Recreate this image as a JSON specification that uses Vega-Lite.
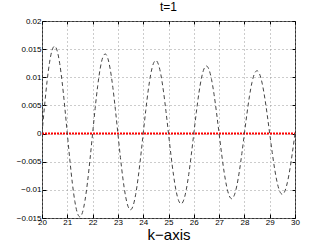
{
  "$schema": "https://vega.github.io/schema/vega-lite/v6.json",
  "autosize": "none",
  "width": 253,
  "height": 197,
  "padding": {"left": 42, "top": 21, "right": 31, "bottom": 27},
  "background": "white",
  "config": {
    "view": {"stroke": "#333", "strokeWidth": 1},
    "font": "Liberation Sans",
    "axis": {
      "domain": false,
      "tickColor": "#000",
      "tickSize": -4,
      "labelFontSize": 8,
      "labelColor": "#000",
      "labelFont": "Liberation Sans",
      "titleFont": "Liberation Sans"
    }
  },
  "title": {"text": "t=1", "fontSize": 12, "fontWeight": "normal", "offset": 3, "color": "#000"},
  "datasets": {
    "curve": [
      {"k":20.0,"v":0},{"k":20.1,"v":0.004894},{"k":20.2,"v":0.009262},{"k":20.3,"v":0.012685},{"k":20.4,"v":0.014839},{"k":20.5,"v":0.015527},{"k":20.6,"v":0.014696},{"k":20.7,"v":0.012440},{"k":20.8,"v":0.008995},{"k":20.9,"v":0.004706},
      {"k":21.0,"v":0},{"k":21.1,"v":-0.004662},{"k":21.2,"v":-0.008826},{"k":21.3,"v":-0.012090},{"k":21.4,"v":-0.014146},{"k":21.5,"v":-0.014805},{"k":21.6,"v":-0.014016},{"k":21.7,"v":-0.011868},{"k":21.8,"v":-0.008582},{"k":21.9,"v":-0.004492},
      {"k":22.0,"v":0},{"k":22.1,"v":0.004451},{"k":22.2,"v":0.008428},{"k":22.3,"v":0.011548},{"k":22.4,"v":0.013515},{"k":22.5,"v":0.014147},{"k":22.6,"v":0.013396},{"k":22.7,"v":0.011345},{"k":22.8,"v":0.008206},{"k":22.9,"v":0.004295},
      {"k":23.0,"v":0},{"k":23.1,"v":-0.004258},{"k":23.2,"v":-0.008064},{"k":23.3,"v":-0.011052},{"k":23.4,"v":-0.012937},{"k":23.5,"v":-0.013545},{"k":23.6,"v":-0.012828},{"k":23.7,"v":-0.010866},{"k":23.8,"v":-0.007861},{"k":23.9,"v":-0.004116},
      {"k":24.0,"v":0},{"k":24.1,"v":0.004082},{"k":24.2,"v":0.007731},{"k":24.3,"v":0.010597},{"k":24.4,"v":0.012408},{"k":24.5,"v":0.012992},{"k":24.6,"v":0.012307},{"k":24.7,"v":0.010426},{"k":24.8,"v":0.007544},{"k":24.9,"v":0.003951},
      {"k":25.0,"v":0},{"k":25.1,"v":-0.003919},{"k":25.2,"v":-0.007424},{"k":25.3,"v":-0.010178},{"k":25.4,"v":-0.011919},{"k":25.5,"v":-0.012483},{"k":25.6,"v":-0.011825},{"k":25.7,"v":-0.010021},{"k":25.8,"v":-0.007252},{"k":25.9,"v":-0.003798},
      {"k":26.0,"v":0},{"k":26.1,"v":0.003769},{"k":26.2,"v":0.007141},{"k":26.3,"v":0.009792},{"k":26.4,"v":0.011467},{"k":26.5,"v":0.012012},{"k":26.6,"v":0.011381},{"k":26.7,"v":0.009645},{"k":26.8,"v":0.006981},{"k":26.9,"v":0.003657},
      {"k":27.0,"v":0},{"k":27.1,"v":-0.003630},{"k":27.2,"v":-0.006879},{"k":27.3,"v":-0.009433},{"k":27.4,"v":-0.011048},{"k":27.5,"v":-0.011575},{"k":27.6,"v":-0.010969},{"k":27.7,"v":-0.009297},{"k":27.8,"v":-0.006730},{"k":27.9,"v":-0.003526},
      {"k":28.0,"v":0},{"k":28.1,"v":0.003501},{"k":28.2,"v":0.006635},{"k":28.3,"v":0.009100},{"k":28.4,"v":0.010659},{"k":28.5,"v":0.011169},{"k":28.6,"v":0.010585},{"k":28.7,"v":0.008973},{"k":28.8,"v":0.006496},{"k":28.9,"v":0.003404},
      {"k":29.0,"v":0},{"k":29.1,"v":-0.003380},{"k":29.2,"v":-0.006407},{"k":29.3,"v":-0.008789},{"k":29.4,"v":-0.010297},{"k":29.5,"v":-0.010790},{"k":29.6,"v":-0.010228},{"k":29.7,"v":-0.008671},{"k":29.8,"v":-0.006279},{"k":29.9,"v":-0.003290},
      {"k":30.0,"v":0}
    ],
    "zero": [{"k":20,"v":0},{"k":30,"v":0}]
  },
  "resolve": {"axis": {"x": "independent", "y": "independent"}},
  "layer": [
    {
      "data": {"name": "zero"},
      "mark": {"type": "line", "color": "#ff0000", "strokeWidth": 2, "strokeDash": [2, 1], "clip": true},
      "encoding": {
        "x": {"field": "k", "type": "quantitative", "scale": {"domain": [20, 30], "nice": false},
              "axis": {"values": [20,21,22,23,24,25,26,27,28,29,30], "grid": true, "gridColor": "#999", "gridDash": [1, 3], "labelOverlap": false, "labelBound": false, "title": "k−axis", "titleFontSize": 15, "titleFontWeight": "normal", "titlePadding": 1, "labelPadding": 4, "labelFlush": false}},
        "y": {"field": "v", "type": "quantitative", "scale": {"domain": [-0.015, 0.02], "nice": false, "zero": false},
              "axis": {"values": [-0.015,-0.01,-0.005,0,0.005,0.01,0.015,0.02], "grid": true, "gridColor": "#999", "gridDash": [1, 3], "labelOverlap": false, "labelBound": false, "format": ".3~f", "title": null, "labelPadding": 5, "labelFlush": false}}
      }
    },
    {
      "data": {"name": "curve"},
      "mark": {"type": "line", "color": "#444", "strokeWidth": 1, "strokeDash": [4, 3], "interpolate": "monotone", "clip": true},
      "encoding": {
        "x": {"field": "k", "type": "quantitative", "axis": null},
        "y": {"field": "v", "type": "quantitative", "axis": null}
      }
    },
    {
      "data": {"name": "zero"},
      "mark": {"type": "line", "opacity": 0},
      "encoding": {
        "x": {"field": "k", "type": "quantitative",
              "axis": {"orient": "top", "values": [20,21,22,23,24,25,26,27,28,29,30], "labels": false, "grid": false, "title": null, "tickSize": -3}},
        "y": {"field": "v", "type": "quantitative",
              "axis": {"orient": "right", "values": [-0.015,-0.01,-0.005,0,0.005,0.01,0.015,0.02], "labels": false, "grid": false, "title": null, "tickSize": -3}}
      }
    }
  ]
}
